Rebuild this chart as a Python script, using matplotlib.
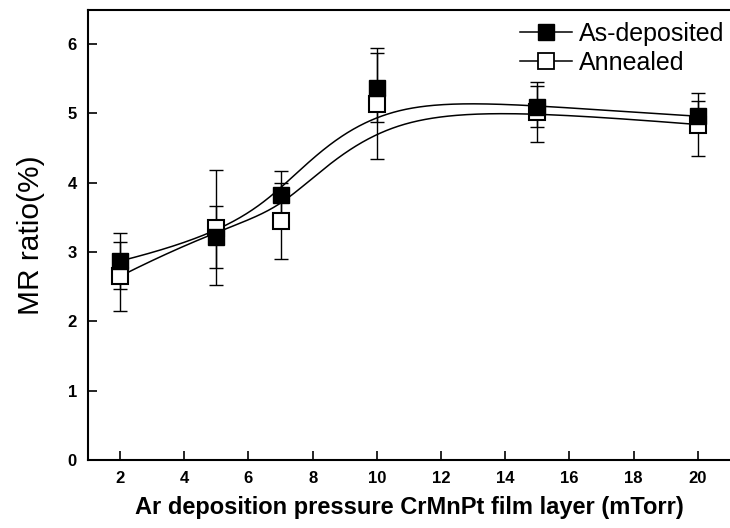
import matplotlib

matplotlib.use("Agg")
import matplotlib.pyplot as plt
import numpy as np

matplotlib.rcParams["font.family"] = ["Liberation Sans", "DejaVu Sans"]

# Ar-Druck (mTorr) und MR-Verhaeltnis (%)
pressure = [2, 5, 7, 10, 15, 20]
mr_deposited = [2.87, 3.22, 3.82, 5.37, 5.10, 4.96]
err_deposited = [0.40, 0.45, 0.35, 0.50, 0.30, 0.22]
mr_annealed = [2.65, 3.35, 3.45, 5.14, 5.02, 4.84]
err_annealed = [0.50, 0.83, 0.55, 0.80, 0.43, 0.45]

x_ticks = [2, 4, 6, 8, 10, 12, 14, 16, 18, 20]
y_ticks = [0, 1, 2, 3, 4, 5, 6]


def bspline(px, py, num=400, degree=3):
    """Geklemmter B-Spline mit den Messpunkten als Kontrollpunkten (wie Origin)."""
    ctrl = np.column_stack([px, py]).astype(float)
    m = len(ctrl)
    knots = np.concatenate([np.zeros(degree), np.linspace(0, 1, m - degree + 1), np.ones(degree)])
    t = np.linspace(0, 1 - 1e-9, num)

    def basis(i, k):
        if k == 0:
            return ((knots[i] <= t) & (t < knots[i + 1])).astype(float)
        out = np.zeros_like(t)
        d1 = knots[i + k] - knots[i]
        d2 = knots[i + k + 1] - knots[i + 1]
        if d1 > 0:
            out += (t - knots[i]) / d1 * basis(i, k - 1)
        if d2 > 0:
            out += (knots[i + k + 1] - t) / d2 * basis(i + 1, k - 1)
        return out

    weights = np.array([basis(i, degree) for i in range(m)])
    curve = weights.T @ ctrl
    return curve[:, 0], curve[:, 1]


fig = plt.figure(figsize=(7.3, 5.28), dpi=100)
ax = fig.add_axes([0.1205, 0.129, 0.8795, 0.853])

# Glatte Kurven
xs, ys = bspline(pressure, mr_annealed)
ax.plot(xs, ys, color="black", linewidth=1.1, zorder=2)
xs, ys = bspline(pressure, mr_deposited)
ax.plot(xs, ys, color="black", linewidth=1.1, zorder=2)

ax.errorbar(pressure, mr_annealed, yerr=err_annealed, fmt="none", ecolor="black",
            elinewidth=1.0, capsize=5, capthick=1.0, zorder=3)
ax.errorbar(pressure, mr_deposited, yerr=err_deposited, fmt="none", ecolor="black",
            elinewidth=1.0, capsize=5, capthick=1.0, zorder=3)
ax.plot(pressure, mr_annealed, linestyle="none", marker="s", markersize=12,
        markerfacecolor="white", markeredgecolor="black", markeredgewidth=1.5, zorder=4)
ax.plot(pressure, mr_deposited, linestyle="none", marker="s", markersize=12,
        markerfacecolor="black", markeredgecolor="black", zorder=5)

# Legende nur mit Proxy-Linien
h1, = ax.plot([], [], color="black", linewidth=1.1, marker="s", markersize=11,
              markerfacecolor="black", markeredgecolor="black")
h2, = ax.plot([], [], color="black", linewidth=1.1, marker="s", markersize=11,
              markerfacecolor="white", markeredgecolor="black", markeredgewidth=1.3)
ax.legend([h1, h2], ["As-deposited", "Annealed"], loc="upper right", frameon=False,
          fontsize=18, numpoints=1, handlelength=2.1, handletextpad=0.28,
          labelspacing=0.22, borderaxespad=0.0, borderpad=0.3,
          bbox_to_anchor=(1.003, 0.99))

ax.set_xlim(1, 21)
ax.set_ylim(0, 6.5)
ax.set_xticks(x_ticks)
ax.set_yticks(y_ticks)
ax.tick_params(direction="in", length=6.5, width=1.2, labelsize=12, pad=8)
for label in ax.get_xticklabels() + ax.get_yticklabels():
    label.set_fontweight("bold")

ax.spines["right"].set_visible(False)
for side in ["left", "bottom", "top"]:
    ax.spines[side].set_linewidth(1.5)

ax.set_xlabel("Ar deposition pressure CrMnPt film layer (mTorr)", fontsize=17,
              fontweight="bold", labelpad=7)
ax.set_ylabel("MR ratio(%)", fontsize=21.5, labelpad=16)

fig.savefig("out.png", dpi=100)
